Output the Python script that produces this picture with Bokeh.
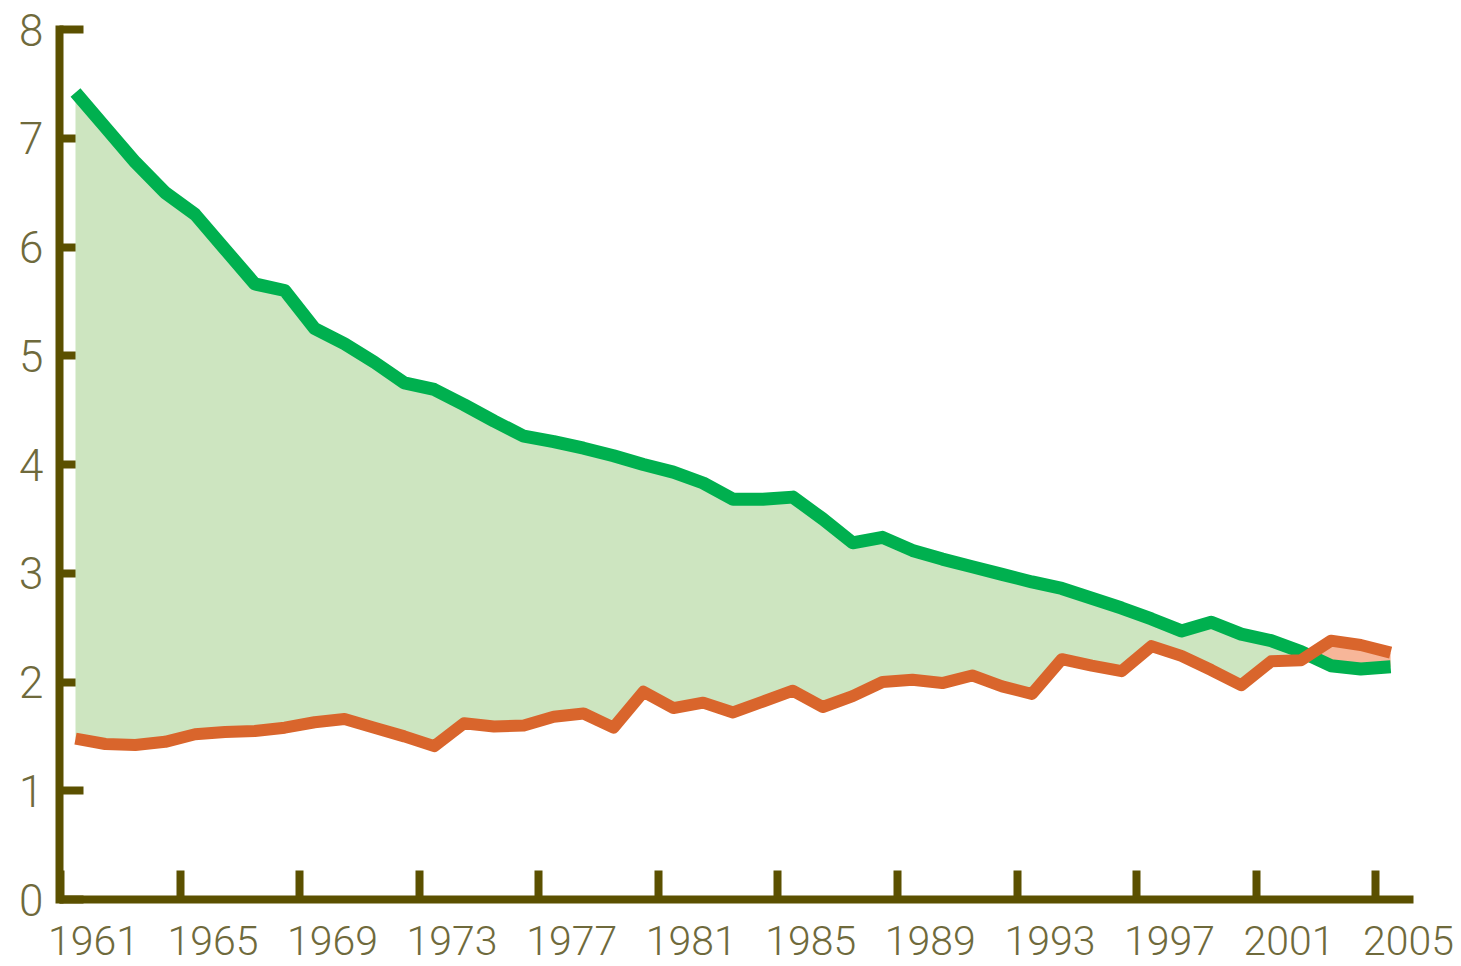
import numpy as np
from bokeh.plotting import figure
from bokeh.models import Range1d, FixedTicker
from bokeh.embed import file_html
from bokeh.resources import INLINE

# ---- data -------------------------------------------------------------
years = list(range(1961, 2006))
green_vals = [7.42, 7.10, 6.78, 6.50, 6.30, 5.98, 5.66, 5.60, 5.25, 5.11,
              4.94, 4.75, 4.69, 4.55, 4.40, 4.26, 4.21, 4.15, 4.08, 4.00,
              3.93, 3.83, 3.68, 3.68, 3.70, 3.50, 3.28, 3.33, 3.21, 3.13,
              3.06, 2.99, 2.92, 2.86, 2.77, 2.68, 2.58, 2.47, 2.55, 2.44,
              2.38, 2.28, 2.15, 2.12, 2.14]
orange_vals = [1.48, 1.43, 1.42, 1.45, 1.52, 1.54, 1.55, 1.58, 1.63, 1.66,
               1.58, 1.50, 1.41, 1.62, 1.59, 1.60, 1.68, 1.71, 1.58, 1.91,
               1.76, 1.81, 1.72, 1.82, 1.92, 1.77, 1.87, 2.00, 2.02, 1.99,
               2.06, 1.96, 1.89, 2.21, 2.15, 2.10, 2.33, 2.24, 2.11, 1.97,
               2.19, 2.20, 2.38, 2.34, 2.27]
tick_years = list(range(1961, 2006, 4))
tick_labels = [str(y) for y in tick_years]
y_ticks = [0, 1, 2, 3, 4, 5, 6, 7, 8]

# ---- styles -----------------------------------------------------------
AXIS = "#5b5000"
TXT = "#6f6a3c"
GREEN = "#00b04f"
ORANGE = "#d9652c"
GREEN_FILL = "#cde5c0"
PEACH_FILL = "#f7b699"
FONT = "Roboto Light"

p = figure(width=1456, height=966, output_backend="svg", toolbar_location=None,
           x_range=Range1d(1960.465, 2005.765), y_range=Range1d(0, 8),
           min_border_left=59, min_border_right=43, min_border_top=29,
           min_border_bottom=67)
p.outline_line_color = None
p.grid.visible = False
p.background_fill_color = "white"
p.border_fill_color = "white"

g = np.array(green_vals)
o = np.array(orange_vals)
top = np.maximum(g, o)
p.varea(x=years, y1=o, y2=top, fill_color=GREEN_FILL, level="annotation")
p.varea(x=years, y1=g, y2=top, fill_color=PEACH_FILL, level="annotation")
p.line(years, green_vals, line_width=13, line_color=GREEN, line_join="round",
       level="annotation")
p.line(years, orange_vals, line_width=12, line_color=ORANGE, line_join="round",
       level="annotation")

# ---- x axis -------------------------------------------------------------
label_pos = [y + 0.6 for y in tick_years]
tick_pos = [y - 0.5 for y in tick_years]
xa = p.xaxis[0]
xa.ticker = FixedTicker(ticks=label_pos, minor_ticks=tick_pos)
xa.major_label_overrides = {lp: lab for lp, lab in zip(label_pos, tick_labels)}
xa.major_tick_in = 0
xa.major_tick_out = 0
xa.minor_tick_in = 29
xa.minor_tick_out = 0
xa.minor_tick_line_width = 8
xa.minor_tick_line_color = AXIS
xa.axis_line_width = 8
xa.axis_line_color = AXIS
xa.major_label_text_font = FONT
xa.major_label_text_font_size = "41px"
xa.major_label_text_color = TXT
xa.major_label_standoff = 26

# ---- y axis -------------------------------------------------------------
ya = p.yaxis[0]
ya.ticker = FixedTicker(ticks=y_ticks)
ya.major_tick_in = 24
ya.major_tick_out = 0
ya.major_tick_line_width = 8
ya.major_tick_line_color = AXIS
ya.minor_tick_line_color = None
ya.axis_line_width = 8
ya.axis_line_color = AXIS
ya.axis_line_cap = "square"
ya.major_label_text_font = FONT
ya.major_label_text_font_size = "44px"
ya.major_label_text_color = TXT
ya.major_label_standoff = 16

open("out.html", "w").write(file_html(p, INLINE))
